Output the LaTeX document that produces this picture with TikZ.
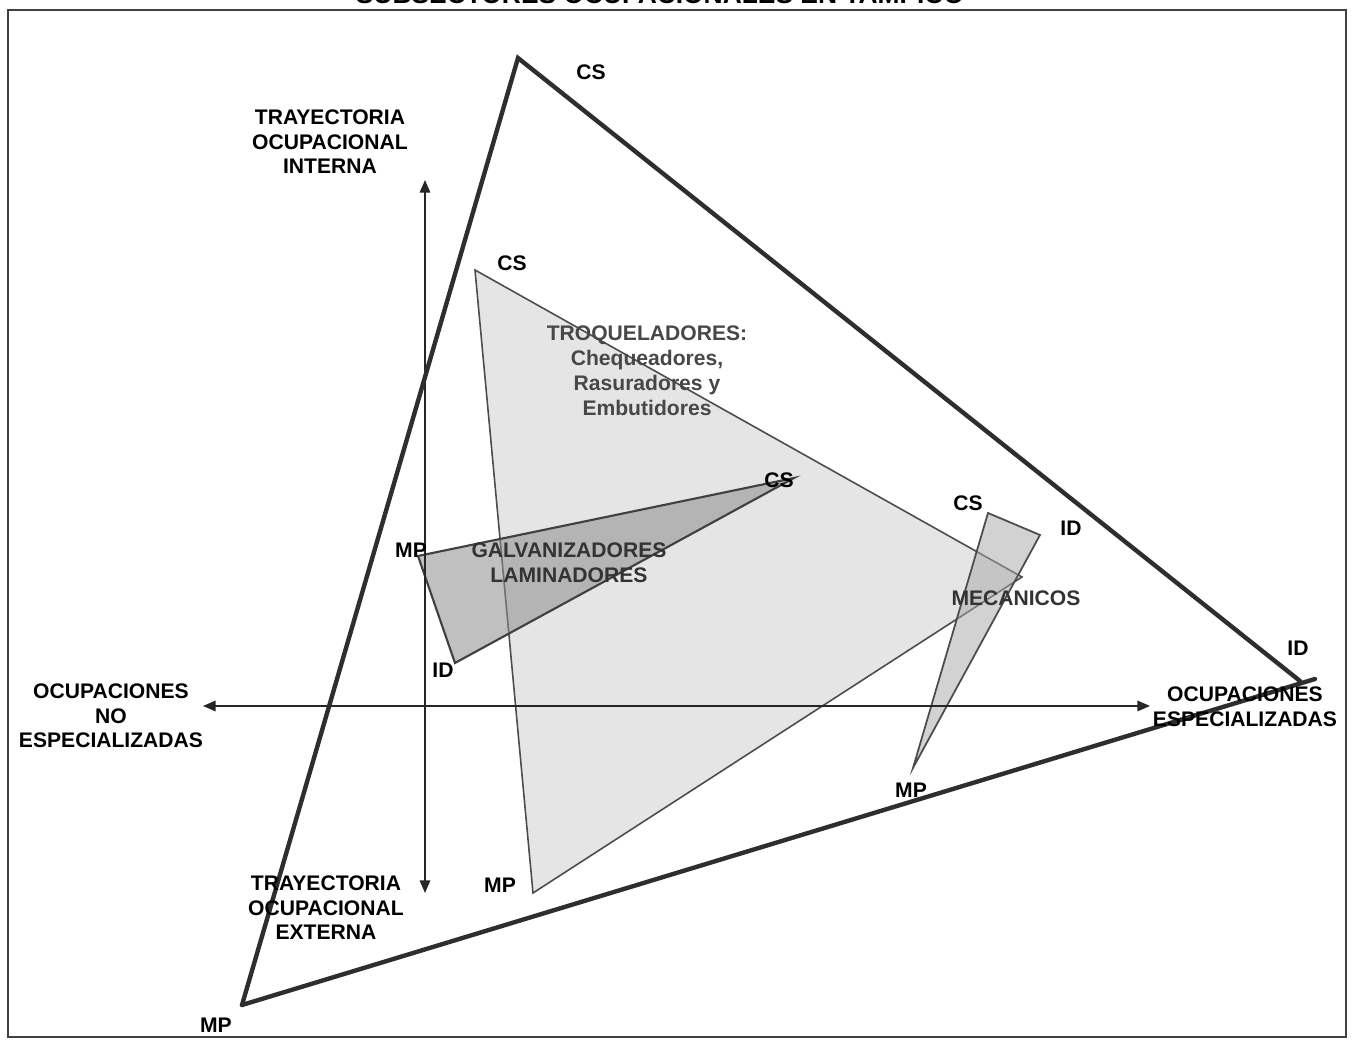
\documentclass[tikz,border=0pt]{standalone}
\usepackage{fontspec}
\setmainfont{Liberation Sans}
\usetikzlibrary{positioning, arrows.meta}

\begin{document}
\begin{tikzpicture}[
		x=0.01cm, y=-0.01cm,
		>={Triangle[length=3.6pt, width=3pt]},
		lbl/.style={font=\fontsize{6}{7}\selectfont\bfseries, inner sep=0pt, align=center},
		grp/.style={lbl, text=black!72},
		axis/.style={<->, line width=0.45pt, black!85},
		outer/.style={line width=1.25pt, black!82, line cap=round},
		edge/.style={line width=0.45pt, black!70}
		]
		
		% page and frame
		\useasboundingbox (0,0) rectangle (1353,1040);
		\draw[line width=0.7pt, black!75] (8,10) rectangle (1346,1037);
		\node[anchor=base, font=\fontsize{7.5}{9}\selectfont\bfseries, inner sep=0pt] (title) at (660,4) {SUBSECTORES OCUPACIONALES EN TAMPICO};
		
		% vertices
		\coordinate (bigCS) at (518,58);
		\coordinate (bigID) at (1300,681);
		\coordinate (bigIDb) at (1315,679);
		\coordinate (bigMP) at (242,1005);
		\coordinate (troCS) at (475,270);
		\coordinate (troMP) at (533,893);
		\coordinate (troR) at (1022,577);
		\coordinate (galMP) at (418,556);
		\coordinate (galCS) at (794,478);
		\coordinate (galID) at (455,663);
		\coordinate (mecCS) at (988,513);
		\coordinate (mecID) at (1040,535);
		\coordinate (mecMP) at (913,768);
		
		% Troqueladores (light)
		\filldraw[fill=black!10, draw=black!70, line width=0.45pt] (troCS) -- (troR) -- (troMP) -- cycle;
		
		% Galvanizadores and Mecanicos (darker)
		\filldraw[fill=black!45, fill opacity=0.55, draw=black!75, line width=0.6pt] (galMP) -- (galCS) -- (galID) -- cycle;
		\filldraw[fill=black!35, fill opacity=0.5, draw=black!70, line width=0.5pt] (mecCS) -- (mecID) -- (mecMP) -- cycle;
		
		% axes
		\coordinate (yTop) at (425,180);
		\coordinate (yBot) at (425,893);
		\coordinate (xL) at (203,706);
		\coordinate (xR) at (1150,706);
		\draw[axis] (yBot) -- (yTop);
		\draw[axis] (xL) -- (xR);
		
		% big triangle
		\draw[outer] (bigMP) -- (bigCS) -- (bigID);
		\draw[outer] (bigMP) -- (bigIDb);
		
		% axis labels
		\node[lbl] (intLbl) at (330,142) {TRAYECTORIA\\OCUPACIONAL\\INTERNA};
		\node[lbl] (extLbl) at (326,908) {TRAYECTORIA\\OCUPACIONAL\\EXTERNA};
		\node[lbl] (noLbl) at (111,716) {OCUPACIONES\\NO\\ESPECIALIZADAS};
		\node[lbl] (espLbl) at (1245,707) {OCUPACIONES\\ESPECIALIZADAS};
		
		% vertex labels
		\node[lbl] (bigCSl) at (591,72) {CS};
		\node[lbl] (bigIDl) at (1298,648) {ID};
		\node[lbl] (bigMPl) at (216,1025) {MP};
		\node[lbl] (troCSl) at (512,263) {CS};
		\node[lbl] (troMPl) at (500,885) {MP};
		\node[lbl] (galMPl) at (411,550) {MP};
		\node[lbl] (galCSl) at (779,480) {CS};
		\node[lbl] (galIDl) at (443,670) {ID};
		\node[lbl] (mecCSl) at (968,503) {CS};
		\node[lbl] (mecIDl) at (1071,528) {ID};
		\node[lbl] (mecMPl) at (911,790) {MP};
		
		% group names
		\node[grp, font=\fontsize{6}{7.1}\selectfont\bfseries] (troLbl) at (647,371) {TROQUELADORES:\\Chequeadores,\\Rasuradores y\\Embutidores};
		\node[grp, text=black!80] (galLbl) at (569,563) {GALVANIZADORES\\LAMINADORES};
		\node[grp, text=black!80] (mecLbl) at (1016,598) {MECANICOS};
		
	\end{tikzpicture}
\end{document}
